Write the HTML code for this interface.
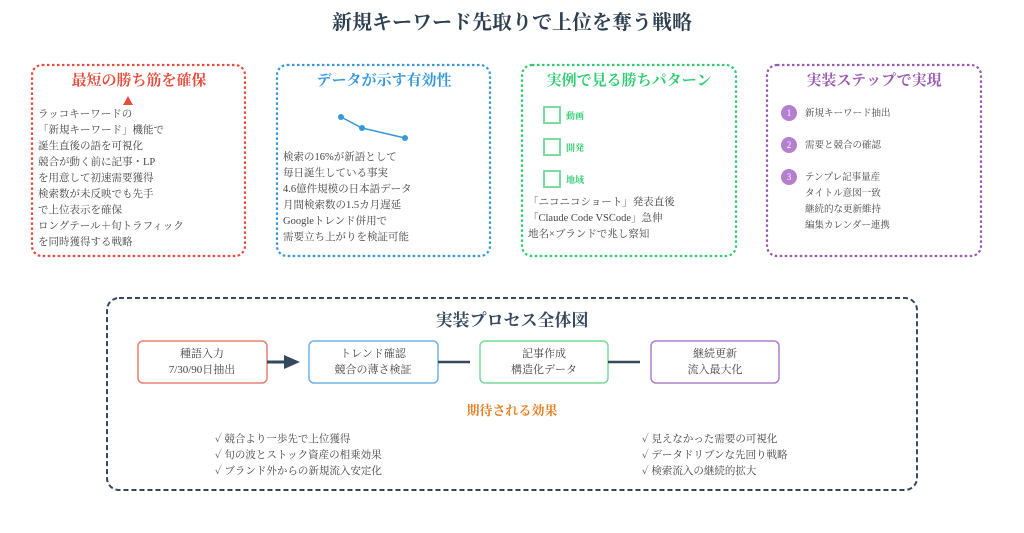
<!DOCTYPE html>
<html><head><meta charset="utf-8"><style>
body{margin:0;background:#fff;}
svg{display:block;font-family:"Liberation Serif","Noto Serif CJK SC",serif;}
</style></head><body>
<svg width="1024" height="533" viewBox="0 0 1024 533">
<text x="512" y="29" text-anchor="middle" font-size="20" font-weight="bold" fill="#2c3e50">新規キーワード先取りで上位を奪う戦略</text>
<g fill="none" stroke-width="2.2" stroke-dasharray="2.5 2.5">
<rect x="32" y="65" width="213" height="191" rx="10" stroke="#e74c3c"/>
<rect x="277" y="65" width="213" height="191" rx="10" stroke="#3498db"/>
<rect x="522" y="65" width="214" height="191" rx="10" stroke="#2ecc71"/>
<rect x="767" y="65" width="214" height="191" rx="10" stroke="#9b59b6"/>
</g>
<g font-size="15" font-weight="bold" text-anchor="middle">
<text x="139" y="85" fill="#e74c3c">最短の勝ち筋を確保</text>
<text x="384" y="85" fill="#3498db">データが示す有効性</text>
<text x="629" y="85" fill="#2ecc71">実例で見る勝ちパターン</text>
<text x="874" y="85" fill="#9b59b6">実装ステップで実現</text>
</g>
<polygon points="128,96 123,105 133,105" fill="#e74c3c"/>
<g font-size="10.5" fill="#444">
<text x="38" y="117">ラッコキーワードの</text>
<text x="38" y="133">「新規キーワード」機能で</text>
<text x="38" y="149">誕生直後の語を可視化</text>
<text x="38" y="165">競合が動く前に記事・LP</text>
<text x="38" y="181">を用意して初速需要獲得</text>
<text x="38" y="197">検索数が未反映でも先手</text>
<text x="38" y="213">で上位表示を確保</text>
<text x="38" y="229">ロングテール＋旬トラフィック</text>
<text x="38" y="245">を同時獲得する戦略</text>
<text x="283" y="160">検索の16%が新語として</text>
<text x="283" y="176">毎日誕生している事実</text>
<text x="283" y="192">4.6億件規模の日本語データ</text>
<text x="283" y="208">月間検索数の1.5カ月遅延</text>
<text x="283" y="224">Googleトレンド併用で</text>
<text x="283" y="240">需要立ち上がりを検証可能</text>
<text x="528" y="205">「ニコニコショート」発表直後</text>
<text x="528" y="221">「Claude Code VSCode」急伸</text>
<text x="528" y="237">地名×ブランドで兆し察知</text>
</g>
<polyline points="341,117 362,128 405,138" fill="none" stroke="#3498db" stroke-width="1.5"/>
<g fill="#3498db"><circle cx="341" cy="117" r="3"/><circle cx="362" cy="128" r="3"/><circle cx="405" cy="138" r="3"/></g>
<g fill="none" stroke="#7bdca0" stroke-width="2">
<rect x="544" y="107" width="16" height="16"/><rect x="544" y="139" width="16" height="16"/><rect x="544" y="171" width="16" height="16"/>
</g>
<g font-size="9" fill="#2ecc71" font-weight="bold">
<text x="566" y="119">動画</text><text x="566" y="151">開発</text><text x="566" y="183">地域</text>
</g>
<g fill="#b57fcf"><circle cx="789" cy="113" r="8"/><circle cx="789" cy="145" r="8"/><circle cx="789" cy="177" r="8"/></g>
<g font-size="9" fill="#fff" text-anchor="middle"><text x="789" y="116">1</text><text x="789" y="148">2</text><text x="789" y="180">3</text></g>
<g font-size="9.5" fill="#444">
<text x="805" y="116">新規キーワード抽出</text>
<text x="805" y="148">需要と競合の確認</text>
<text x="805" y="180">テンプレ記事量産</text>
<text x="805" y="196">タイトル意図一致</text>
<text x="805" y="212">継続的な更新維持</text>
<text x="805" y="228">編集カレンダー連携</text>
</g>
<rect x="107" y="298" width="810" height="192" rx="12" fill="none" stroke="#34495e" stroke-width="2" stroke-dasharray="5 3"/>
<text x="512" y="326" text-anchor="middle" font-size="17" font-weight="bold" fill="#34495e">実装プロセス全体図</text>
<g fill="#fff" stroke-width="1.5">
<rect x="138" y="341" width="129" height="42" rx="5" stroke="#e8806f"/>
<rect x="309" y="341" width="129" height="42" rx="5" stroke="#6fb3e8"/>
<rect x="480" y="341" width="128" height="42" rx="5" stroke="#76dc9a"/>
<rect x="651" y="341" width="128" height="42" rx="5" stroke="#b07fcc"/>
</g>
<line x1="267" y1="362" x2="286" y2="362" stroke="#34495e" stroke-width="3"/>
<polygon points="284,355 300,362 284,369" fill="#34495e"/>
<line x1="438" y1="362" x2="470" y2="362" stroke="#34495e" stroke-width="2.5"/>
<line x1="608" y1="362" x2="640" y2="362" stroke="#34495e" stroke-width="2.5"/>
<g font-size="11" fill="#444" text-anchor="middle">
<text x="202" y="357">種語入力</text><text x="202" y="373">7/30/90日抽出</text>
<text x="373" y="357">トレンド確認</text><text x="373" y="373">競合の薄さ検証</text>
<text x="544" y="357">記事作成</text><text x="544" y="373">構造化データ</text>
<text x="715" y="357">継続更新</text><text x="715" y="373">流入最大化</text>
</g>
<text x="512" y="415" text-anchor="middle" font-size="13" font-weight="bold" fill="#e67e22">期待される効果</text>
<g font-size="10.5" fill="#444">
<text x="215" y="442">✓ 競合より一歩先で上位獲得</text>
<text x="215" y="458">✓ 旬の波とストック資産の相乗効果</text>
<text x="215" y="474">✓ ブランド外からの新規流入安定化</text>
<text x="642" y="442">✓ 見えなかった需要の可視化</text>
<text x="642" y="458">✓ データドリブンな先回り戦略</text>
<text x="642" y="474">✓ 検索流入の継続的拡大</text>
</g>
</svg>
</body></html>
